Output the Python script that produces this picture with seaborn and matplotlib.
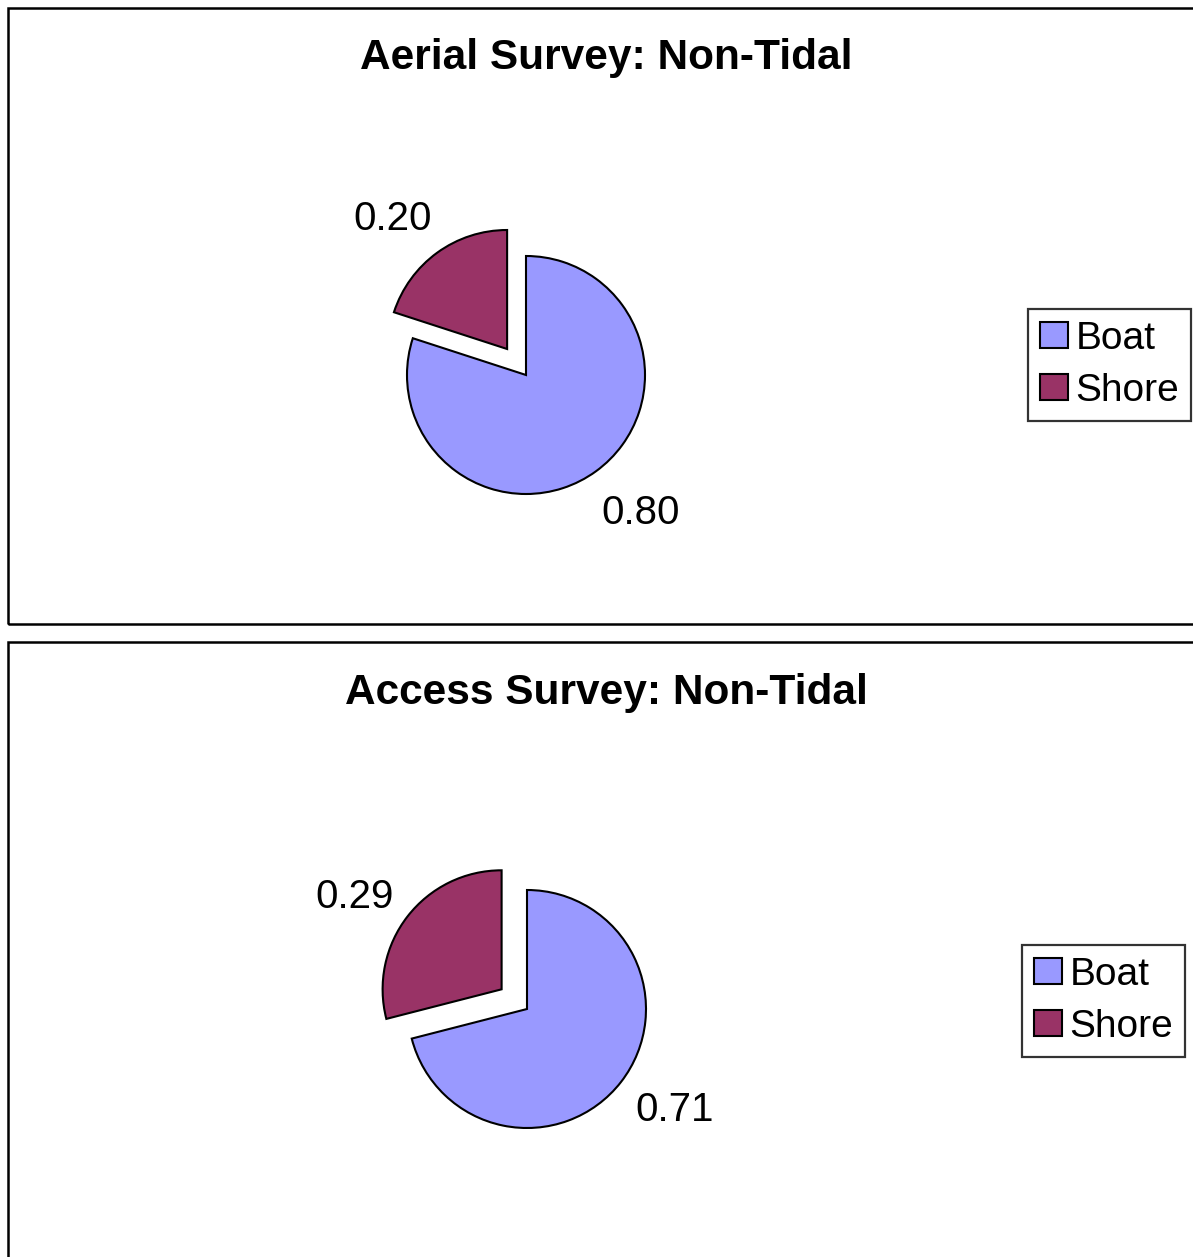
import matplotlib
matplotlib.use("Agg")
import numpy as np
import matplotlib.pyplot as plt
import seaborn as sns
from matplotlib.patches import Rectangle, Patch

sns.set_style("white")
plt.rcParams['font.family'] = ['Liberation Sans', 'DejaVu Sans']
plt.rcParams['text.color'] = 'black'

# ---- data ----
categories = ["Boat", "Shore"]
aerial_values = [0.80, 0.20]
access_values = [0.71, 0.29]
titles = ["Aerial Survey: Non-Tidal", "Access Survey: Non-Tidal"]
colors = sns.color_palette(["#9999FF", "#993366"])

W, H = 1193, 1257
fig = plt.figure(figsize=(W / 100, H / 100), dpi=100)

R = 119.0  # pie radius in px

panels = [
    dict(box=(8, 8, 1196, 624), center=(526, 375), leg=(1028, 309), title_y=58,
         values=aerial_values, title=titles[0]),
    dict(box=(8, 642, 1196, 1262), center=(527, 1009), leg=(1022, 945), title_y=693,
         values=access_values, title=titles[1]),
]

LABEL_DIST = 1.48
LABEL_TILT = 4.5  # degrees pushed toward horizontal (Excel-like placement)

for p in panels:
    l, t, r, b = p["box"]
    fig.add_artist(Rectangle((l / W, 1 - b / H), (r - l) / W, (b - t) / H,
                             transform=fig.transFigure, fill=False,
                             edgecolor="black", linewidth=1.8, zorder=0))
    ax = fig.add_axes([l / W, 1 - b / H, (r - l) / W, (b - t) / H])
    cx, cy = p["center"]
    wedges, texts = ax.pie(p["values"], labels=[f"{v:.2f}" for v in p["values"]],
                           colors=colors, startangle=90, counterclock=False,
                           explode=[0, 0.27], radius=1, labeldistance=LABEL_DIST,
                           wedgeprops=dict(edgecolor="black", linewidth=1.5),
                           textprops=dict(fontsize=29, color="black"))
    for w, tx in zip(wedges, texts):
        mid = (w.theta1 + w.theta2) / 2.0
        c = np.cos(np.deg2rad(mid))
        ang = mid + (LABEL_TILT if c < 0 else -LABEL_TILT) * np.sign(np.sin(np.deg2rad(mid)))
        wx, wy = w.center
        a = np.deg2rad(ang)
        tx.set_position((wx + LABEL_DIST * np.cos(a), wy + LABEL_DIST * np.sin(a)))
        tx.set_ha("center")
        tx.set_va("center_baseline")
    ax.set_aspect("auto")
    ax.set_xlim((l - cx) / R, (r - cx) / R)
    ax.set_ylim((cy - b) / R, (cy - t) / R)
    ax.axis("off")
    fig.text(0.508, 1 - p["title_y"] / H, p["title"], ha="center", va="center",
             fontsize=30.5, fontweight="bold", color="black")
    handles = [Patch(facecolor=c, edgecolor="black", linewidth=1.5) for c in colors]
    lx, ly = p["leg"]
    leg = fig.legend(handles, categories, loc="upper left",
                     bbox_to_anchor=(lx / W, 1 - ly / H), bbox_transform=fig.transFigure,
                     borderaxespad=0, fontsize=28, frameon=True, fancybox=False,
                     handlelength=0.72, handleheight=0.65, handletextpad=0.2,
                     borderpad=0.3, labelspacing=0.42)
    for txt in leg.get_texts():
        txt.set_color("black")
    leg.get_frame().set_edgecolor("black")
    leg.get_frame().set_linewidth(1.6)

fig.savefig("out.png", dpi=100, facecolor="white")
